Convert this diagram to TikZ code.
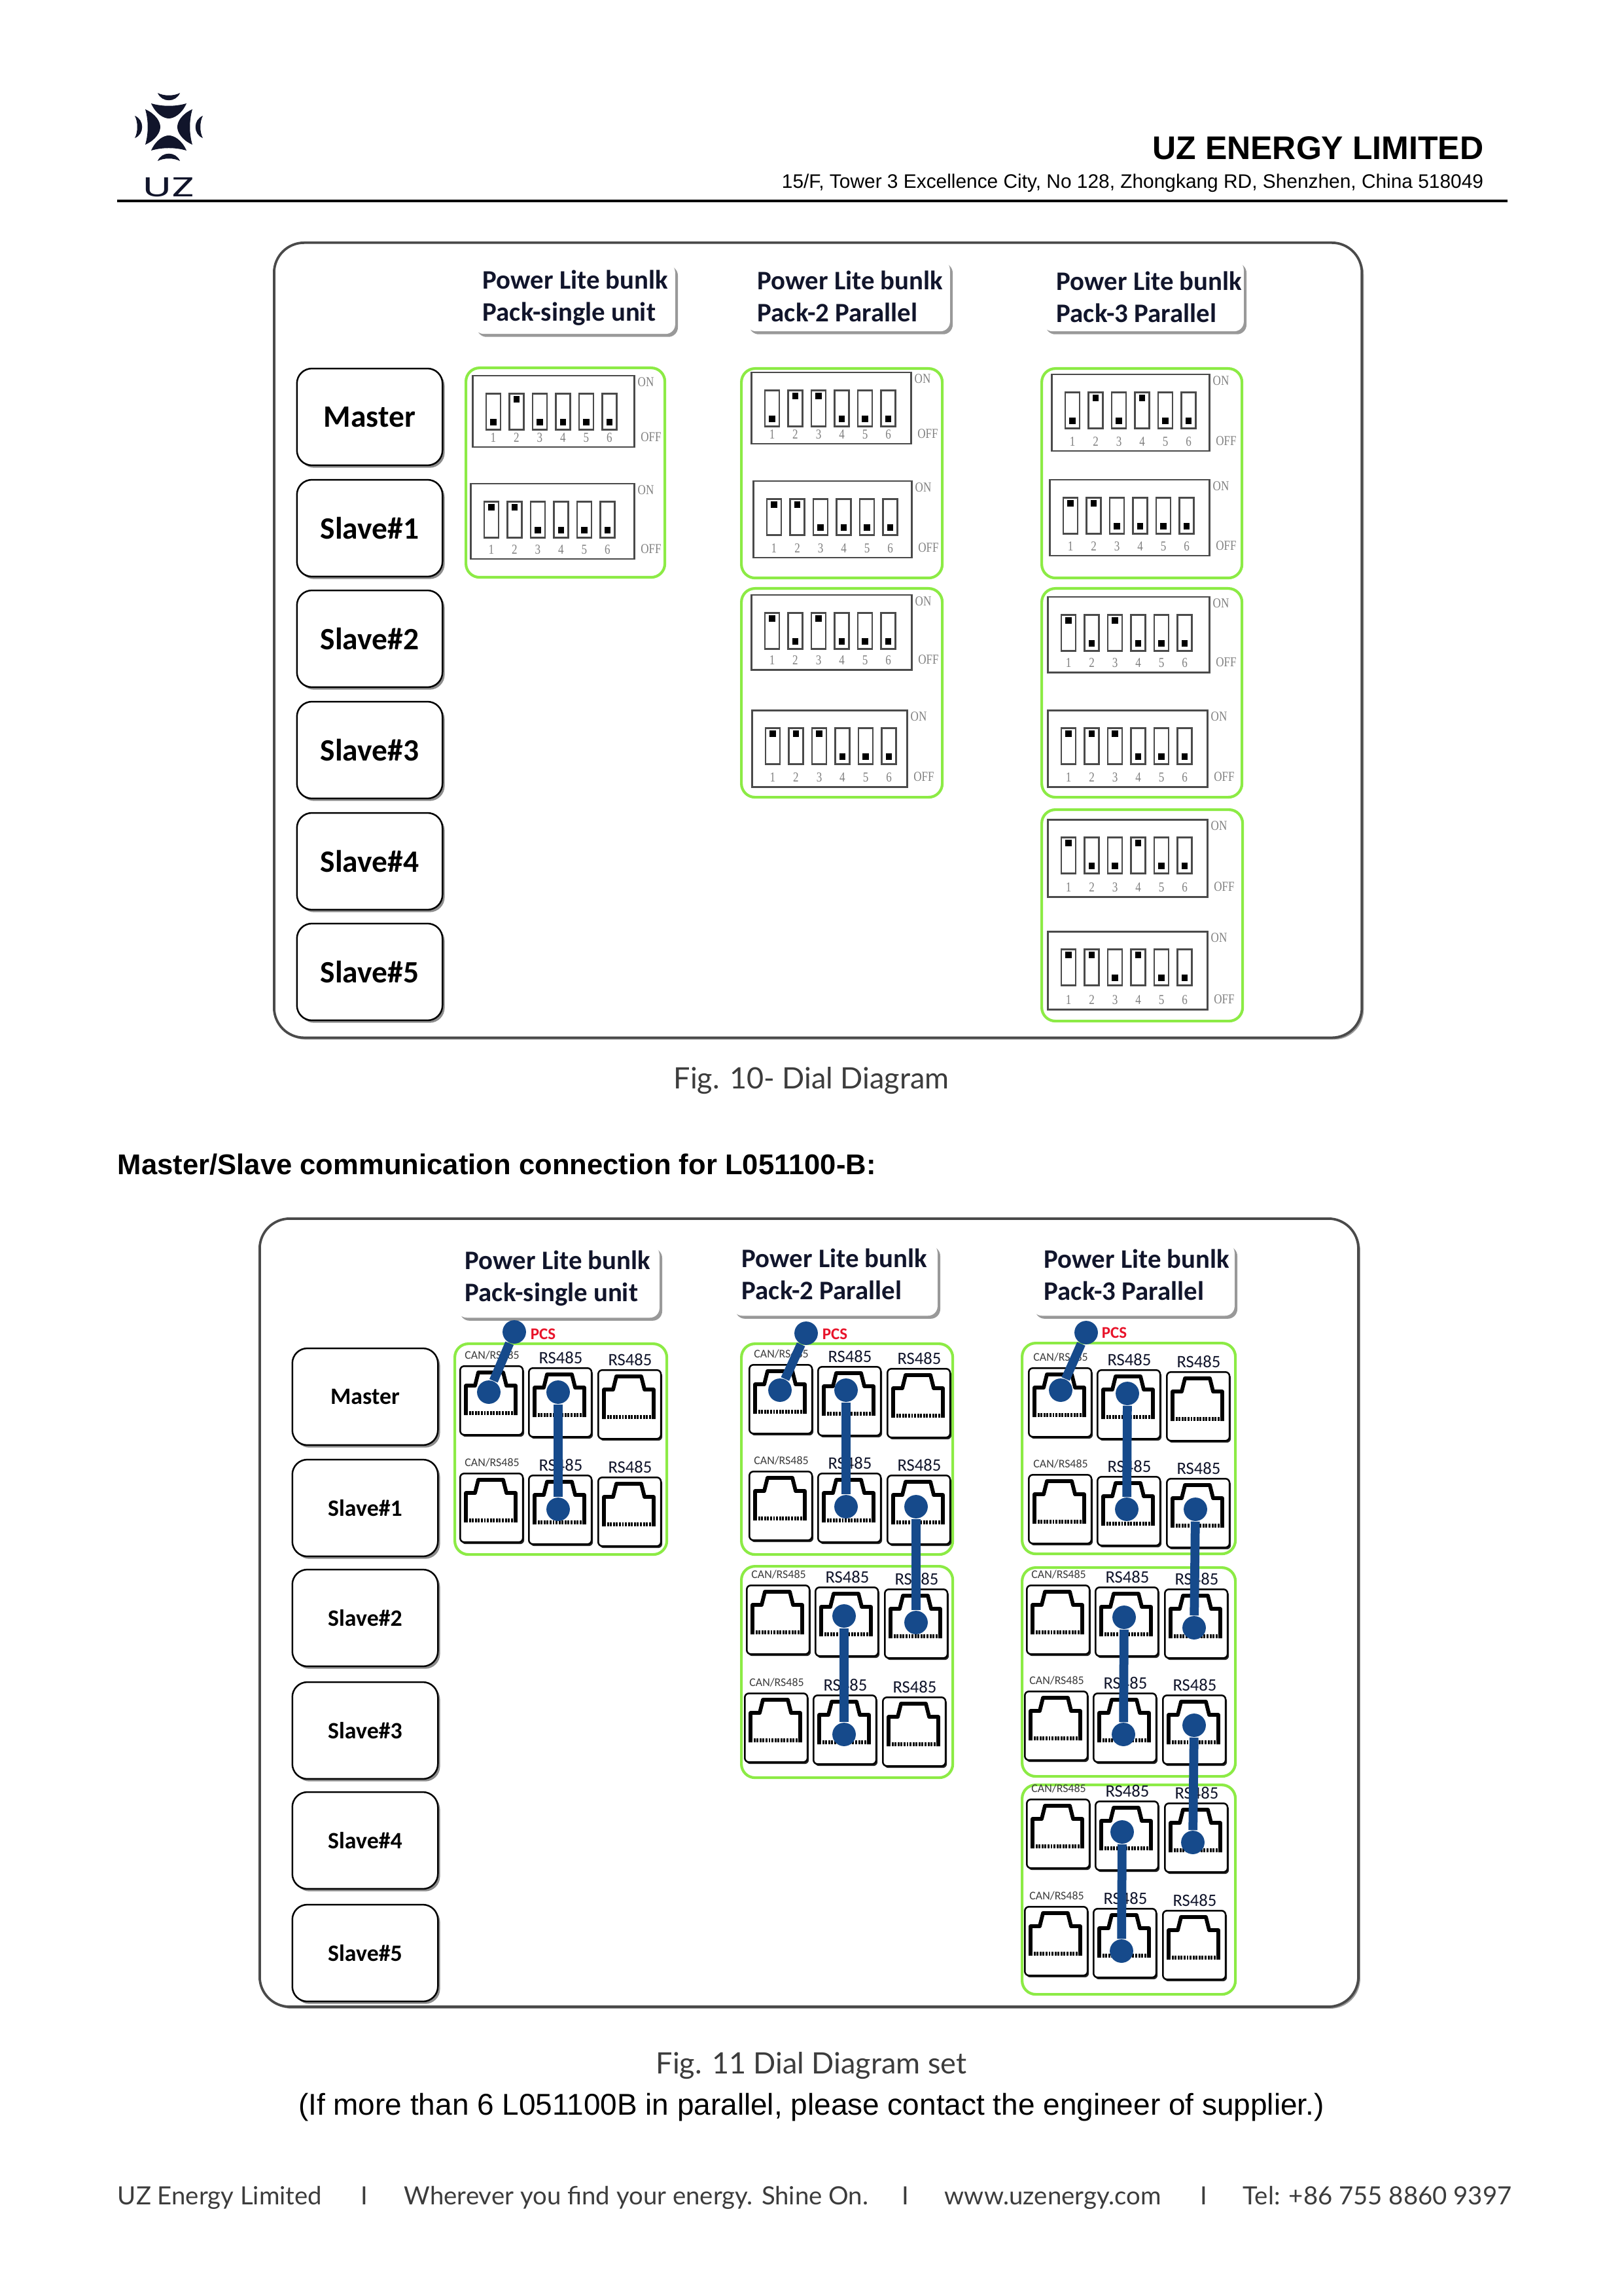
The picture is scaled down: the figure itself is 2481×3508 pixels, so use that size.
\documentclass[tikz,border=0pt]{standalone}
\usepackage{xcolor}
\usepackage{fontspec}
\setmainfont{Liberation Sans}
\newfontfamily\cali{Carlito}
\newfontfamily\thin{Lato}
\newfontfamily\logofont{Poppins}
\newfontfamily\dipfont{Liberation Serif}
\definecolor{Ink}{HTML}{11152B}
\definecolor{Edge}{HTML}{4A4A4A}
\definecolor{Lime}{HTML}{8CEB45}
\definecolor{Plug}{HTML}{164A8B}
\definecolor{Pcs}{HTML}{E8132A}
\definecolor{Soft}{HTML}{3C3C3C}
\usetikzlibrary{shadows}

\begin{document}
\begin{tikzpicture}[x=0.24pt,y=-0.24pt,
  panel/.style={draw=Edge,line width=0.9pt,fill=white,rounded corners=11pt,anchor=north west,inner sep=0pt,drop shadow={shadow xshift=0.7pt,shadow yshift=-0.7pt,fill=gray,opacity=0.8}},
  lbox/.style={draw=black,line width=0.6pt,fill=white,rounded corners=5.5pt,minimum width=53.4pt,minimum height=35.5pt,inner sep=0pt,drop shadow={shadow xshift=0.8pt,shadow yshift=-0.9pt,fill=gray,opacity=0.9}},
  card/.style={fill=white,rounded corners=3.5pt,anchor=north west,inner sep=0pt,drop shadow={shadow xshift=1pt,shadow yshift=-1.1pt,fill=gray,opacity=0.8}},
  cardtxt/.style={font=\cali\bfseries\fontsize{9.8}{11.8}\selectfont,text=Ink,align=left,anchor=west,inner sep=0pt},
  group/.style={draw=Lime,line width=1pt,rounded corners=5pt,anchor=north west,inner sep=0pt},
  dipframe/.style={draw=Edge,line width=0.6pt,anchor=north west,inner sep=0pt},
  slider/.style={draw=Edge,line width=0.6pt,minimum width=5.3pt,minimum height=13.2pt,inner sep=0pt},
  knob/.style={fill=black,minimum size=2.2pt,inner sep=0pt},
  dipnum/.style={font=\dipfont\fontsize{5}{5}\selectfont,text=gray,inner sep=0pt,xscale=0.82},
  port/.style={draw=black,line width=0.6pt,fill=white,rounded corners=1.5pt,minimum width=23pt,minimum height=25.2pt,anchor=north west,inner sep=0pt,drop shadow={shadow xshift=0.5pt,shadow yshift=-0.7pt,fill=black,opacity=0.85}},
  rj/.style={draw=black,line width=1.4pt,line join=round},
  canlab/.style={font=\cali\fontsize{4.3}{5}\selectfont,text=Soft,inner sep=0pt},
  rslab/.style={font=\cali\fontsize{6.4}{7}\selectfont,text=Ink,inner sep=0pt},
  plug/.style={circle,fill=Plug,minimum size=8.6pt,inner sep=0pt},
  cable/.style={draw=Plug,line width=3.3pt},
  pcs/.style={font=\cali\bfseries\fontsize{6}{7}\selectfont,text=Pcs,anchor=west,inner sep=0pt}]
\useasboundingbox (0,0) rectangle (2481,3508);
\fill[white] (0,0) rectangle (2481,3508);

% page head
\foreach \r in {0,90,180,270}{
  \fill[Ink,shift={(258,194)},rotate=\r] (-17,-52) .. controls (-8,-47) and (8,-47) .. (17,-52) .. controls (11,-37) and (-11,-37) .. cycle;
  \fill[Ink,shift={(258,194)},rotate=\r] (-27,-36) .. controls (-10,-31) and (10,-31) .. (27,-36) .. controls (20,-20) and (8,-13) .. (0,-13) .. controls (-8,-13) and (-20,-20) .. cycle;
}
\node[font=\logofont\fontsize{10}{10}\selectfont,text=Ink,xscale=1.55,inner sep=0pt] (uz) at (258,286) {UZ};
\node[font=\bfseries\fontsize{12}{13}\selectfont,anchor=east,inner sep=0pt] (co) at (2268,226) {UZ ENERGY LIMITED};
\node[font=\fontsize{7.17}{9}\selectfont,anchor=east,inner sep=0pt] (addr) at (2268,280) {15/F, Tower 3 Excellence City, No 128, Zhongkang RD, Shenzhen, China 518049};
\draw[line width=0.75pt] (179,307) -- (2304,307);

% dial panel
\node[panel,minimum width=399pt,minimum height=291.5pt] (top) at (417,369) {};
\foreach \t/\y [count=\i] in {Master/637,Slave\#1/807,Slave\#2/976,Slave\#3/1146,Slave\#4/1316,Slave\#5/1485}
  \node[lbox] (u\i) at (565,\y) {\fontsize{11.4}{12}\selectfont\cali\bfseries \t};
\foreach \c/\x/\y/\w/\tx/\ty/\l in {
  a/724/401/307/737/455/Pack-single unit,
  b/1140/397/311/1157/453/Pack-2 Parallel,
  c/1593/397/307/1614/454/Pack-3 Parallel}{
  \node[card,minimum width=\w*0.24pt,minimum height=26pt] (\c) at (\x,\y) {};
  \node[cardtxt] (\c t) at (\tx,\ty) {Power Lite bunlk\\\l};
}
\foreach \g/\x/\y/\w/\h in {g1/710/560/304/320,g2/1131/561/307/320,g3/1131/897/307/319,g4/1590/561/306/320,g5/1590/897/306/319,g6/1590/1235/307/323}
  \node[group,minimum width=\w*0.24pt,minimum height=\h*0.24pt] (\g) at (\x,\y) {};
\foreach \d/\x/\y/\w/\h/\st in {
  d1/721/573/247/109/{0,1,0,0,0,0},
  d2/718/738/250/115/{1,1,0,0,0,0},
  d3/1147/568/244/109/{0,1,1,0,0,0},
  d4/1150/734/242/117/{1,1,0,0,0,0},
  d5/1147/908/245/114/{1,0,1,0,0,0},
  d6/1148/1084/237/117/{1,1,1,0,0,0},
  d7/1606/571/241/117/{0,1,0,1,0,0},
  d8/1603/732/244/116/{1,1,0,0,0,0},
  d9/1600/911/247/115/{1,0,1,0,0,0},
  d10/1600/1084/244/117/{1,1,1,0,0,0},
  d11/1600/1251/244/118/{1,0,0,1,0,0},
  d12/1600/1422/244/119/{1,1,0,1,0,0}}{
  \node[dipframe,minimum width=\w*0.24pt,minimum height=\h*0.24pt] (\d) at (\x,\y) {};
  \node[dipnum] (\d on) at (\x+\w+19,\y+11) {ON};
  \node[dipnum] (\d off) at (\x+\w+27,\y+\h-14) {OFF};
  \foreach \s [count=\i] in \st {
    \node[slider] (\d s\i) at (\x+33+35.5*\i-35.5,\y+56) {};
    \node[knob] (\d k\i) at (\x+33+35.5*\i-35.5,\y+72-35*\s) {};
    \node[dipnum] (\d n\i) at (\x+33+35.5*\i-35.5,\y+\h-13) {\i};
  }
}

% captions
\node[font=\thin\fontsize{10.8}{12}\selectfont,text=Soft,inner sep=0pt] (cap1) at (1240,1651) {Fig. 10- Dial Diagram};
\node[font=\bfseries\fontsize{10.47}{12}\selectfont,anchor=west,inner sep=0pt] (head) at (179,1779) {Master/Slave communication connection for L051100-B:};

% port panel
\node[panel,minimum width=403pt,minimum height=289pt] (low) at (395,1860) {};
\foreach \t/\y [count=\i] in {Master/2134,Slave\#1/2304,Slave\#2/2472,Slave\#3/2644,Slave\#4/2812,Slave\#5/2984}
  \node[lbox] (v\i) at (558,\y) {\fontsize{8.6}{10}\selectfont\cali\bfseries \t};
\foreach \c/\x/\y/\w/\tx/\ty/\l in {
  e/698/1902/309/710/1953/Pack-single unit,
  f/1119/1899/313/1133/1947/Pack-2 Parallel,
  h/1577/1899/309/1595/1948/Pack-3 Parallel}{
  \node[card,minimum width=\w*0.24pt,minimum height=26.5pt] (\c) at (\x,\y) {};
  \node[cardtxt] (\c t) at (\tx,\ty) {Power Lite bunlk\\\l};
}
\foreach \g/\x/\y/\w/\h in {l1/693/2051/324/322,l2/1131/2051/323/322,l3/1131/2391/323/323,l4/1560/2050/326/322,l5/1560/2393/326/319,l6/1560/2725/326/320}
  \node[group,minimum width=\w*0.24pt,minimum height=\h*0.24pt] (\g) at (\x,\y) {};
\foreach \r/\x/\y in {r1/702/2086,r2/702/2250,r3/1144/2084,r4/1144/2247,r5/1140/2421,r6/1137/2586,r7/1571/2089,r8/1571/2252,r9/1568/2421,r10/1565/2583,r11/1568/2748,r12/1565/2912}{
  \foreach \p/\dx/\dy/\st/\l in {a/0/0/canlab/{CAN/RS485},b/105/3/rslab/RS485,c/211/6/rslab/RS485}{
    \node[port] (\r\p) at (\x+\dx,\y+\dy) {};
    \draw[rj,shift={(\x+\dx,\y+\dy)}] (10,76) -- (10,31) -- (24,31) -- (29,11) -- (67,11) -- (72,31) -- (86,31) -- (86,76);
    \draw[draw=black,line width=1.3pt,dash pattern=on 0.7pt off 0.4pt,shift={(\x+\dx,\y+\dy)}] (10,73) -- (86,73);
    \node[\st] (\r\p t) at (\x+\dx+50,\y+\dy-15) {\l};
  }
}
% plugs and cables
\foreach \n/\x/\y in {p1/786/2035,p2/747/2127,p3/853/2127,p4/853/2306,
  p5/1232/2037,p6/1192/2124,p7/1293/2124,p8/1293/2302,p9/1400/2302,p10/1400/2479,p11/1290/2469,p12/1290/2650,
  p13/1660/2036,p14/1621/2124,p15/1723/2129,p16/1722/2306,p17/1827/2306,p18/1825/2487,p19/1718/2471,p20/1717/2650,p21/1825/2636,p22/1823/2815,p23/1715/2799,p24/1714/2981}
  \node[plug] (\n) at (\x,\y) {};
\foreach \a/\b in {p1/p2,p3/p4,p5/p6,p7/p8,p9/p10,p11/p12,p13/p14,p15/p16,p17/p18,p19/p20,p21/p22,p23/p24}
  \draw[cable] (\a) -- (\b);
\node[pcs] (pcs1) at (810,2038) {PCS};
\node[pcs] (pcs2) at (1256,2038) {PCS};
\node[pcs] (pcs3) at (1683,2036) {PCS};

\node[font=\thin\fontsize{10.8}{12}\selectfont,text=Soft,inner sep=0pt] (cap2) at (1240,3156) {Fig. 11 Dial Diagram set};
\node[font=\fontsize{11.03}{13}\selectfont,inner sep=0pt] (note) at (1240,3220) {(If more than 6 L051100B in parallel, please contact the engineer of supplier.)};

% page foot
\foreach \n/\x/\t in {f1/179/UZ Energy Limited,f2/551/I,f3/617/Wherever you find your energy. Shine On.,f4/1378/I,f5/1443/www.uzenergy.com,f6/1834/I,f7/1899/Tel: +86 755 8860 9397}
  \node[font=\thin\fontsize{9.2}{11}\selectfont,text=Soft,anchor=base west,inner sep=0pt] (\n) at (\x,3368) {\t};
\end{tikzpicture}
\end{document}
